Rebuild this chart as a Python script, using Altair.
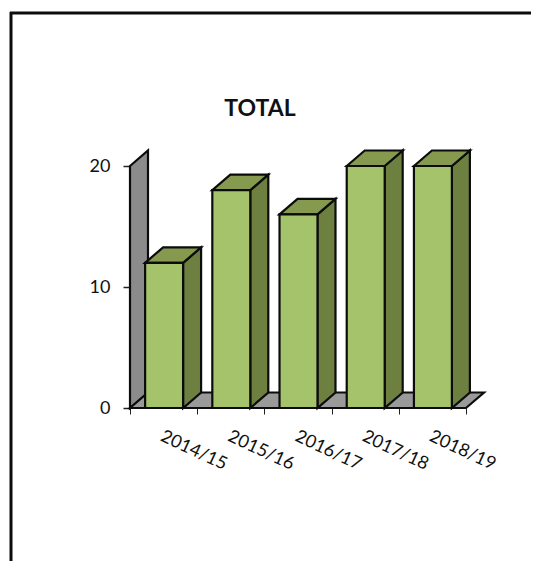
import altair as alt
import pandas as pd

categories = ["2014/15", "2015/16", "2016/17", "2017/18", "2018/19"]
values = [12, 18, 16, 20, 20]
y_ticks = [0, 10, 20]
chart_title = "TOTAL"

# Plot geometry in data units (1 category = 67.2 px, 1 value unit = 12.1 px)
PX_X = 67.2
PX_Y = 12.1
W, H = 523, 553
X0, Y0 = 122, 400
DX = 18 / PX_X
DY = 15.5 / PX_Y
BAR_L = 0.225
BAR_R = 0.79
N = len(categories)
Y_MAX = max(y_ticks)

x_scale = alt.Scale(domain=[-X0 / PX_X, (W - X0) / PX_X], nice=False, zero=False)
y_scale = alt.Scale(domain=[-(H - Y0) / PX_Y, Y0 / PX_Y], nice=False, zero=False)

x_axis = alt.Axis(values=list(range(N + 1)), labels=False, domain=False, grid=False,
                  title=None, tickSize=6, tickColor="#222222", tickWidth=1,
                  offset=-(H - Y0))
y_axis = alt.Axis(values=y_ticks, domain=False, grid=False, title=None, tickSize=7,
                  tickColor="#222222", tickWidth=1.5, offset=-X0, labelFont="Lato",
                  labelFontSize=18, labelColor="#111111", labelPadding=13)

front, side, top = [], [], []
for i, (c, v) in enumerate(zip(categories, values)):
    l, r = i + BAR_L, i + BAR_R
    front.append(dict(cat=c, x=l, x2=r, y=v, y2=0))
    side += [dict(cat=c, x=r, y=v, y2=0), dict(cat=c, x=r + DX, y=v + DY, y2=DY)]
    top += [dict(cat=c, x=l, y=v, y2=v),
            dict(cat=c, x=l + DX, y=v + DY, y2=v),
            dict(cat=c, x=r, y=v + DY, y2=v),
            dict(cat=c, x=r + DX, y=v + DY, y2=v + DY)]

wall = pd.DataFrame([dict(x=0, y=Y_MAX, y2=0), dict(x=DX, y=Y_MAX + DY, y2=DY)])
floor = pd.DataFrame([dict(x=0, y=0, y2=0), dict(x=DX, y=DY, y2=0),
                      dict(x=N, y=DY, y2=0), dict(x=N + DX, y=DY, y2=DY)])
labels = pd.DataFrame(dict(cat=categories, x=[i + 0.5 for i in range(N)], y=[0] * N))

X = alt.X("x:Q", scale=x_scale, axis=x_axis)
Y = alt.Y("y:Q", scale=y_scale, axis=y_axis)


def face(data, color, key=None):
    enc = dict(x=X, y=Y, y2="y2:Q")
    if key:
        enc["detail"] = key
    return alt.Chart(data).mark_area(
        color=color, stroke="#0c0c0c", strokeWidth=2.2, strokeJoin="miter", interpolate="linear"
    ).encode(**enc)


wall_layer = face(wall, "#8b8b8b")
floor_layer = face(floor, "#9a9a9a")
side_layer = face(pd.DataFrame(side), "#6d8040", "cat:N")
top_layer = face(pd.DataFrame(top), "#85994f", "cat:N")
front_layer = alt.Chart(pd.DataFrame(front)).mark_rect(
    color="#a5c36b", stroke="#0c0c0c", strokeWidth=2.2
).encode(x=X, x2="x2:Q", y=Y, y2="y2:Q")
label_layer = alt.Chart(labels).mark_text(
    align="left", baseline="middle", angle=25, font="Lato", fontSize=18, color="#111111", dx=10, dy=26
).encode(x=X, y=Y, text="cat:N")

frame_top = alt.Chart(pd.DataFrame({"a": [0]})).mark_rule(color="#0c0c0c", strokeWidth=3).encode(
    x=alt.value(2), x2=alt.value(W), y=alt.value(5))
frame_left = alt.Chart(pd.DataFrame({"a": [0]})).mark_rule(color="#0c0c0c", strokeWidth=3).encode(
    x=alt.value(3), y=alt.value(4), y2=alt.value(H))

chart = alt.layer(
    frame_top, frame_left, wall_layer, floor_layer, side_layer, top_layer, front_layer, label_layer
).properties(
    width=W, height=H, padding=0, background="white",
    autosize=alt.AutoSizeParams(type="none"),
    title=alt.TitleParams(chart_title, font="Lato", fontSize=23, fontWeight="bold", color="#111111",
                          anchor="start", align="center", dx=252, offset=-100, baseline="middle", dy=24),
).configure_view(stroke=None)

chart.save("out.html", embed_options={"renderer": "svg", "actions": False})
